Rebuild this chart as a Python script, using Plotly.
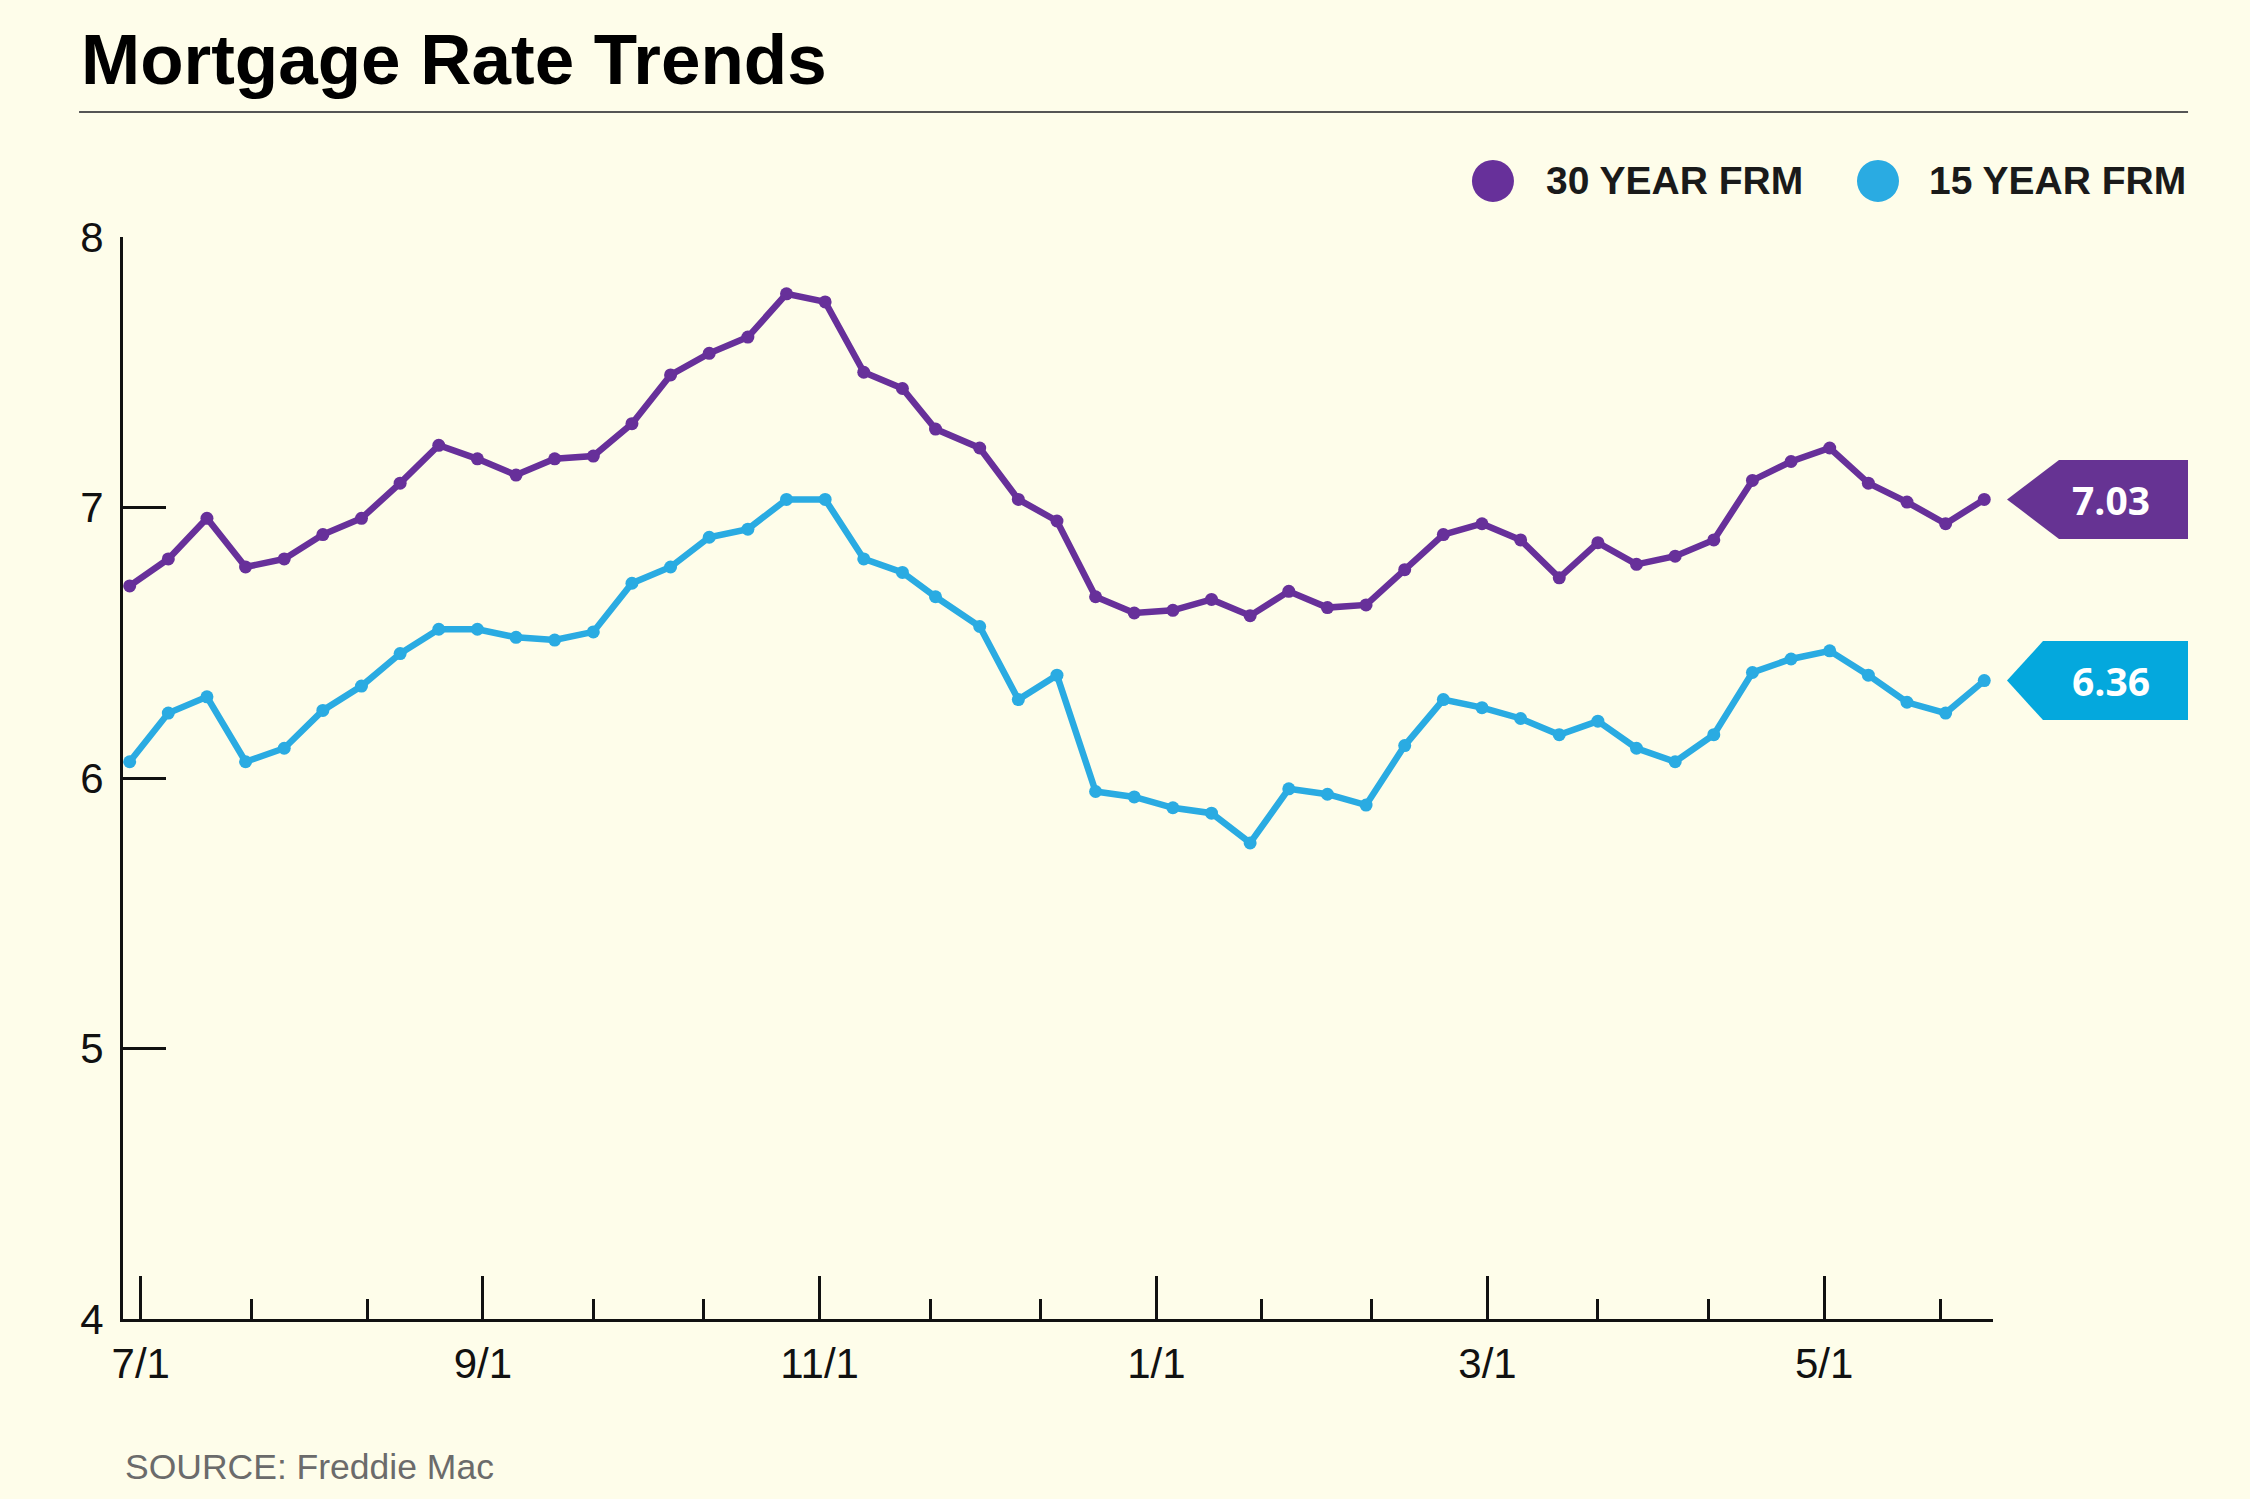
import plotly.graph_objects as go

dates = ["2023-06-29", "2023-07-06", "2023-07-13", "2023-07-20", "2023-07-27",
         "2023-08-03", "2023-08-10", "2023-08-17", "2023-08-24", "2023-08-31",
         "2023-09-07", "2023-09-14", "2023-09-21", "2023-09-28", "2023-10-05",
         "2023-10-12", "2023-10-19", "2023-10-26", "2023-11-02", "2023-11-09",
         "2023-11-16", "2023-11-22", "2023-11-30", "2023-12-07", "2023-12-14",
         "2023-12-21", "2023-12-28", "2024-01-04", "2024-01-11", "2024-01-18",
         "2024-01-25", "2024-02-01", "2024-02-08", "2024-02-15", "2024-02-22",
         "2024-02-29", "2024-03-07", "2024-03-14", "2024-03-21", "2024-03-28",
         "2024-04-04", "2024-04-11", "2024-04-18", "2024-04-25", "2024-05-02",
         "2024-05-09", "2024-05-16", "2024-05-23", "2024-05-30"]

frm30 = [6.71, 6.81, 6.96, 6.78, 6.81, 6.90, 6.96, 7.09, 7.23, 7.18,
         7.12, 7.18, 7.19, 7.31, 7.49, 7.57, 7.63, 7.79, 7.76, 7.50,
         7.44, 7.29, 7.22, 7.03, 6.95, 6.67, 6.61, 6.62, 6.66, 6.60,
         6.69, 6.63, 6.64, 6.77, 6.90, 6.94, 6.88, 6.74, 6.87, 6.79,
         6.82, 6.88, 7.10, 7.17, 7.22, 7.09, 7.02, 6.94, 7.03]

frm15 = [6.06, 6.24, 6.30, 6.06, 6.11, 6.25, 6.34, 6.46, 6.55, 6.55,
         6.52, 6.51, 6.54, 6.72, 6.78, 6.89, 6.92, 7.03, 7.03, 6.81,
         6.76, 6.67, 6.56, 6.29, 6.38, 5.95, 5.93, 5.89, 5.87, 5.76,
         5.96, 5.94, 5.90, 6.12, 6.29, 6.26, 6.22, 6.16, 6.21, 6.11,
         6.06, 6.16, 6.39, 6.44, 6.47, 6.38, 6.28, 6.24, 6.36]

major_ticks = ["2023-07-01", "2023-09-01", "2023-11-01", "2024-01-01", "2024-03-01", "2024-05-01"]
major_labels = ["7/1", "9/1", "11/1", "1/1", "3/1", "5/1"]
minor_ticks = ["2023-07-21", "2023-08-11", "2023-09-21", "2023-10-11", "2023-11-21",
               "2023-12-11", "2024-01-20", "2024-02-09", "2024-03-21", "2024-04-10",
               "2024-05-22"]
y_ticks = [4, 5, 6, 7, 8]

series_names = ["30 YEAR FRM", "15 YEAR FRM"]
PURPLE = "#67309A"
CYAN = "#2AABE2"
PURPLE_BOX = "#663393"
CYAN_BOX = "#04A8DD"
BG = "#FEFDEA"
FONT = "Liberation Sans, Arial, sans-serif"

fig = go.Figure()
for vals, col, name in [(frm30, PURPLE, series_names[0]), (frm15, CYAN, series_names[1])]:
    fig.add_trace(go.Scatter(
        x=dates, y=vals, mode="lines+markers", name=name,
        line=dict(color=col, width=6.5),
        marker=dict(color=col, size=13),
        showlegend=False, cliponaxis=False,
    ))

fig.update_layout(
    width=2250, height=1499,
    paper_bgcolor=BG, plot_bgcolor=BG,
    margin=dict(l=123, r=257, t=237, b=180),
    font=dict(family=FONT, color="#111111"),
    xaxis=dict(
        range=["2023-06-27 19:00", "2024-05-31 14:00"],
        showgrid=False, zeroline=False,
        showline=True, linecolor="#111111", linewidth=3,
        tickmode="array", tickvals=major_ticks, ticktext=major_labels,
        ticks="inside", ticklen=43, tickwidth=3, tickcolor="#111111",
        tickfont=dict(size=42, color="#111111", family=FONT),
        ticklabelstandoff=6,
        minor=dict(tickmode="array", tickvals=minor_ticks, ticks="inside",
                   ticklen=20, tickwidth=3, tickcolor="#111111", showgrid=False),
    ),
    yaxis=dict(
        range=[4, 8], showgrid=False, zeroline=False,
        showline=True, linecolor="#111111", linewidth=3,
        tickmode="array", tickvals=y_ticks,
        ticks="inside", ticklen=43, tickwidth=3, tickcolor="#111111",
        tickfont=dict(size=42, color="#111111", family=FONT),
        ticklabelstandoff=8,
    ),
)

shapes = []
annotations = []

# title & rule
annotations.append(dict(text="<b>Mortgage Rate Trends</b>", xref="paper", yref="paper",
                        x=-0.0235, y=1.1636, xanchor="left", yanchor="middle",
                        showarrow=False, font=dict(size=71, color="#000000", family=FONT)))
shapes.append(dict(type="line", xref="paper", yref="paper", x0=-0.0235, x1=1.1043,
                   y0=1.1155, y1=1.1155, line=dict(color="#555555", width=2)))

# legend
for xc, xt, col, name in [(0.7326, 0.7599, PURPLE, series_names[0]), (0.9385, 0.9647, CYAN, series_names[1])]:
    shapes.append(dict(type="circle", xref="paper", yref="paper", xsizemode="pixel", ysizemode="pixel",
                       xanchor=xc, yanchor=1.0518, x0=-21, x1=21, y0=-21, y1=21,
                       fillcolor=col, line=dict(width=0)))
    annotations.append(dict(text="<b>" + name + "</b>", xref="paper", yref="paper",
                            x=xt, y=1.0518, xanchor="left", yanchor="middle", showarrow=False,
                            font=dict(size=39, color="#1a1a1a", family=FONT)))

# end labels (value boxes pointing at last point)
for vals, col, rect_left in [(frm30, PURPLE_BOX, 66), (frm15, CYAN_BOX, 50)]:
    shapes.append(dict(type="path", xref="paper", yref="y", xsizemode="pixel", ysizemode="pixel",
                       xanchor=1.0, yanchor=vals[-1],
                       path=f"M 14,0 L {rect_left},39.5 L 195,39.5 L 195,-39.5 L {rect_left},-39.5 Z",
                       fillcolor=col, line=dict(width=0)))
    annotations.append(dict(text="<b>%.2f</b>" % vals[-1], xref="paper", yref="y",
                            x=1.0, y=vals[-1], xshift=118, xanchor="center", yanchor="middle",
                            showarrow=False,
                            font=dict(size=39, color="#FFFFFF", family="Open Sans, Lato, sans-serif")))

# source
annotations.append(dict(text="SOURCE: Freddie Mac", xref="paper", yref="paper",
                        x=0, y=-0.1368, xanchor="left", yanchor="middle", showarrow=False,
                        font=dict(size=35.5, color="#6b6b6b", family=FONT)))

fig.update_layout(shapes=shapes, annotations=annotations)
fig.write_html("out.html", config={"displayModeBar": False},
               post_script="document.body.style.margin='0';")
